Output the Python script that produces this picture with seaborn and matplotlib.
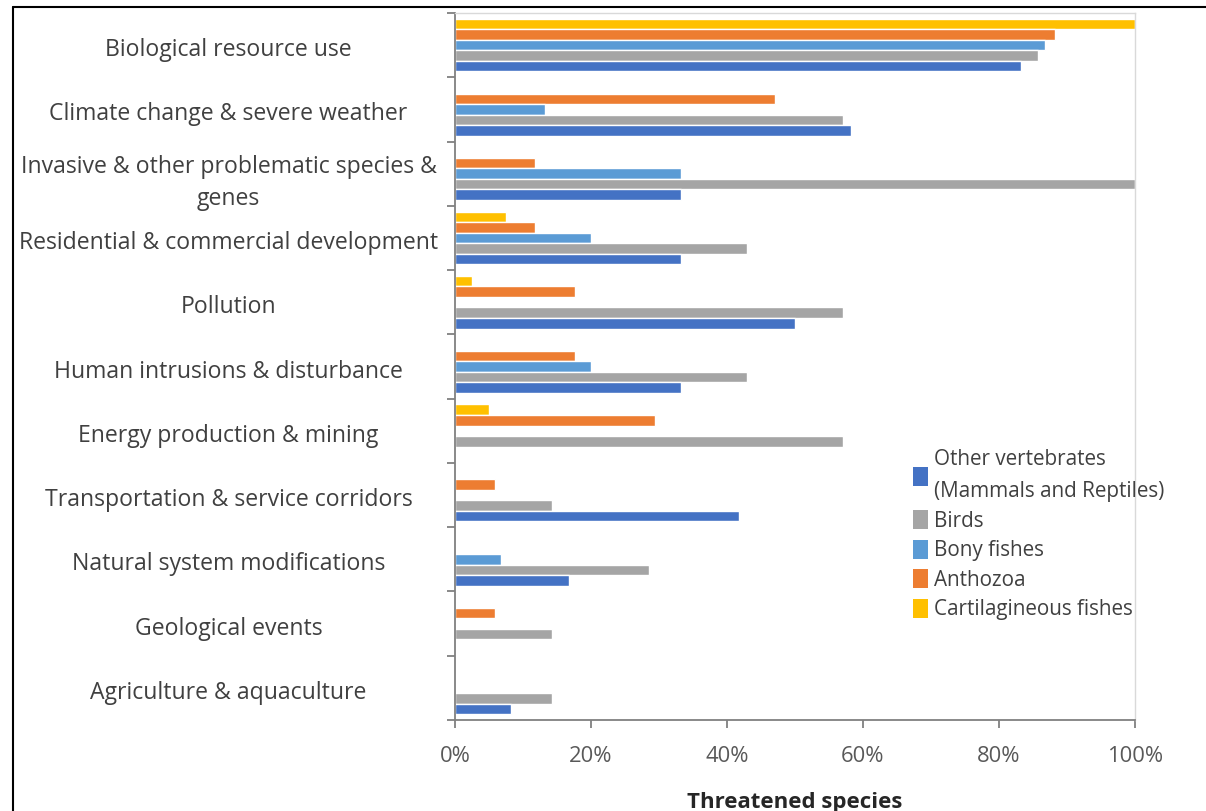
import numpy as np
import pandas as pd
import seaborn as sns
import matplotlib.pyplot as plt
from matplotlib.patches import Patch
from matplotlib.lines import Line2D
from matplotlib.ticker import FixedLocator
from matplotlib.transforms import ScaledTranslation

threats = [
    "Biological resource use",
    "Climate change & severe weather",
    "Invasive & other problematic species &\ngenes",
    "Residential & commercial development",
    "Pollution",
    "Human intrusions & disturbance",
    "Energy production & mining",
    "Transportation & service corridors",
    "Natural system modifications",
    "Geological events",
    "Agriculture & aquaculture",
]

# Share of threatened species affected by each threat (%)
other_vertebrates = [83.3, 58.3, 33.3, 33.3, 50.0, 33.3, 0.0, 41.7, 16.7, 0.0, 8.3]
birds = [85.7, 57.1, 100.0, 42.9, 57.1, 42.9, 57.1, 14.3, 28.6, 14.3, 14.3]
bony_fishes = [86.7, 13.3, 33.3, 20.0, 0.0, 20.0, 0.0, 0.0, 6.7, 0.0, 0.0]
anthozoa = [88.2, 47.1, 11.8, 11.8, 17.6, 17.6, 29.4, 5.9, 0.0, 5.9, 0.0]
cartilagineous_fishes = [100.0, 0.0, 0.0, 7.5, 2.5, 0.0, 5.0, 0.0, 0.0, 0.0, 0.0]

groups = [
    "Other vertebrates\n(Mammals and Reptiles)",
    "Birds",
    "Bony fishes",
    "Anthozoa",
    "Cartilagineous fishes",
]
colors = ["#4472C4", "#A5A5A5", "#5B9BD5", "#ED7D31", "#FFC000"]
x_ticks = [0, 20, 40, 60, 80, 100]
x_tick_labels = ["0%", "20%", "40%", "60%", "80%", "100%"]

wide = pd.DataFrame({
    "threat": threats,
    groups[0]: other_vertebrates,
    groups[1]: birds,
    groups[2]: bony_fishes,
    groups[3]: anthozoa,
    groups[4]: cartilagineous_fishes,
})
long = wide.melt(id_vars="threat", var_name="group", value_name="share")

sns.set_theme(style="white")
plt.rcParams["font.family"] = ["Open Sans", "DejaVu Sans"]

fig = plt.figure(figsize=(12.06, 8.11), dpi=100)
ax = fig.add_axes([455 / 1206, 1 - 720 / 811, 680 / 1206, 707 / 811])

# top bar of each group is the last series, so the hue order is reversed
hue_order = groups[::-1]
palette = dict(zip(groups, colors))
sns.barplot(
    data=long, y="threat", x="share", hue="group", hue_order=hue_order,
    order=threats, palette=palette, orient="h", width=0.82, saturation=1,
    errorbar=None, legend=False, ax=ax,
)

ax.set_xlim(0, 100)
ax.set_ylim(len(threats) - 0.5, -0.5)
ax.set_xticks(x_ticks)
ax.set_xticklabels(x_tick_labels, fontsize=15.8, color="#595959")
ax.set_yticks(range(len(threats)))
ax.set_yticklabels(threats, fontsize=16.6, color="#404040", ha="center",
                   linespacing=1.45)
ax.yaxis.set_minor_locator(FixedLocator(np.arange(-0.5, len(threats), 1.0)))
ax.tick_params(axis="y", which="major", length=0, pad=163)
ax.tick_params(axis="y", which="minor", length=6, width=1.3, color="#808080",
               direction="out", left=True)
ax.tick_params(axis="x", which="major", length=6, width=1.3, color="#808080",
               direction="out", pad=13, bottom=True)
ax.set_xlabel("Threatened species", fontsize=16, fontweight="bold",
              color="#262626", labelpad=18)
ax.set_ylabel("")

# nudge category labels slightly downward
shift = ScaledTranslation(0, -2 / 100, fig.dpi_scale_trans)
for lbl in ax.get_yticklabels():
    lbl.set_transform(lbl.get_transform() + shift)

for side in ("left", "bottom"):
    ax.spines[side].set_color("#808080")
    ax.spines[side].set_linewidth(1.3)
for side in ("top", "right"):
    ax.spines[side].set_color("#D9D9D9")
    ax.spines[side].set_linewidth(1.0)

handles = [Patch(facecolor=c, edgecolor="none") for c in colors]
leg = ax.legend(
    handles, groups, loc="upper left", bbox_to_anchor=(913 / 1206, 1 - 449 / 811),
    bbox_transform=fig.transFigure, frameon=False, fontsize=14.9,
    handlelength=0.72, handleheight=1.05, handletextpad=0.3, labelspacing=0.38,
    borderpad=0, borderaxespad=0,
)
for t in leg.get_texts():
    t.set_color("#404040")
    t.set_linespacing(1.7)

# outer chart frame (top and left edges)
fig.add_artist(Line2D([13 / 1206, 1.0], [1 - 7 / 811, 1 - 7 / 811],
                      transform=fig.transFigure, color="black", lw=1.5))
fig.add_artist(Line2D([13 / 1206, 13 / 1206], [0.0, 1 - 7 / 811],
                      transform=fig.transFigure, color="black", lw=1.5))

fig.savefig("out.png", dpi=100, facecolor="white")
